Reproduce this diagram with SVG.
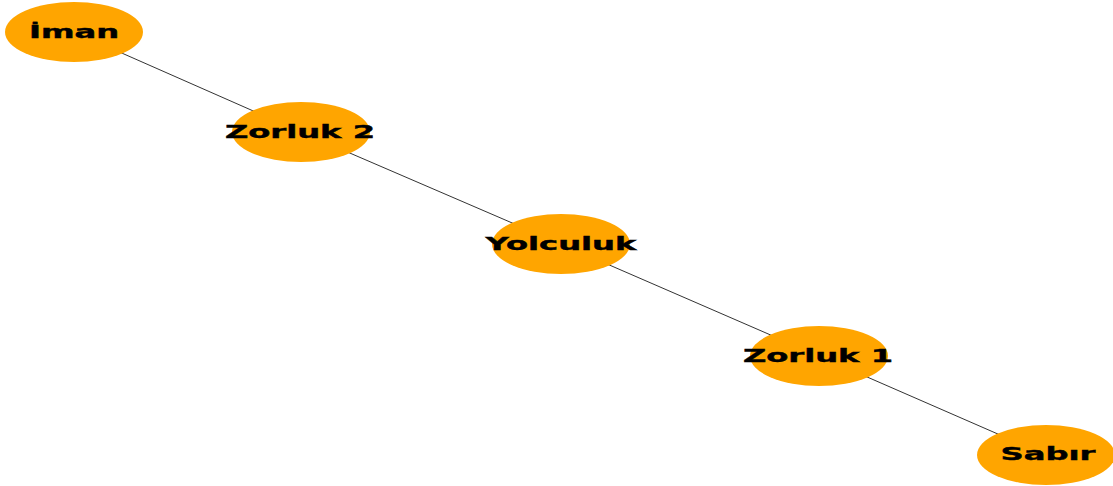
<svg xmlns="http://www.w3.org/2000/svg" width="1113" height="486" viewBox="0 0 1113 486">
<style>
.edge{stroke:#333;stroke-width:1;fill:none}
.node ellipse{fill:#FFA500}
.node text{font-family:"DejaVu Sans",sans-serif;font-weight:bold;font-size:17.4px;fill:#000;stroke:#000;stroke-width:0.4;text-anchor:middle}
</style>
<rect width="1113" height="486" fill="#fff"/>
<g id="edges">
<line class="edge" x1="74" y1="32" x2="301" y2="132"/>
<line class="edge" x1="301" y1="132" x2="561" y2="244"/>
<line class="edge" x1="561" y1="244" x2="819" y2="356"/>
<line class="edge" x1="819" y1="356" x2="1046" y2="455"/>
</g>
<g id="n-iman" class="node"><ellipse cx="74" cy="32" rx="69" ry="30"/><text transform="translate(74,38) scale(1.85,1)">İman</text></g>
<g id="n-zorluk2" class="node"><ellipse cx="301" cy="132" rx="69" ry="30"/><text transform="translate(300,138) scale(1.85,1)">Zorluk 2</text></g>
<g id="n-yolculuk" class="node"><ellipse cx="561" cy="244" rx="69" ry="30"/><text transform="translate(561,250) scale(1.85,1)">Yolculuk</text></g>
<g id="n-zorluk1" class="node"><ellipse cx="819" cy="356" rx="69" ry="30"/><text transform="translate(818,362) scale(1.85,1)">Zorluk 1</text></g>
<g id="n-sabir" class="node"><ellipse cx="1046" cy="455" rx="69" ry="30"/><text transform="translate(1048,460) scale(1.85,1)">Sabır</text></g>
</svg>
